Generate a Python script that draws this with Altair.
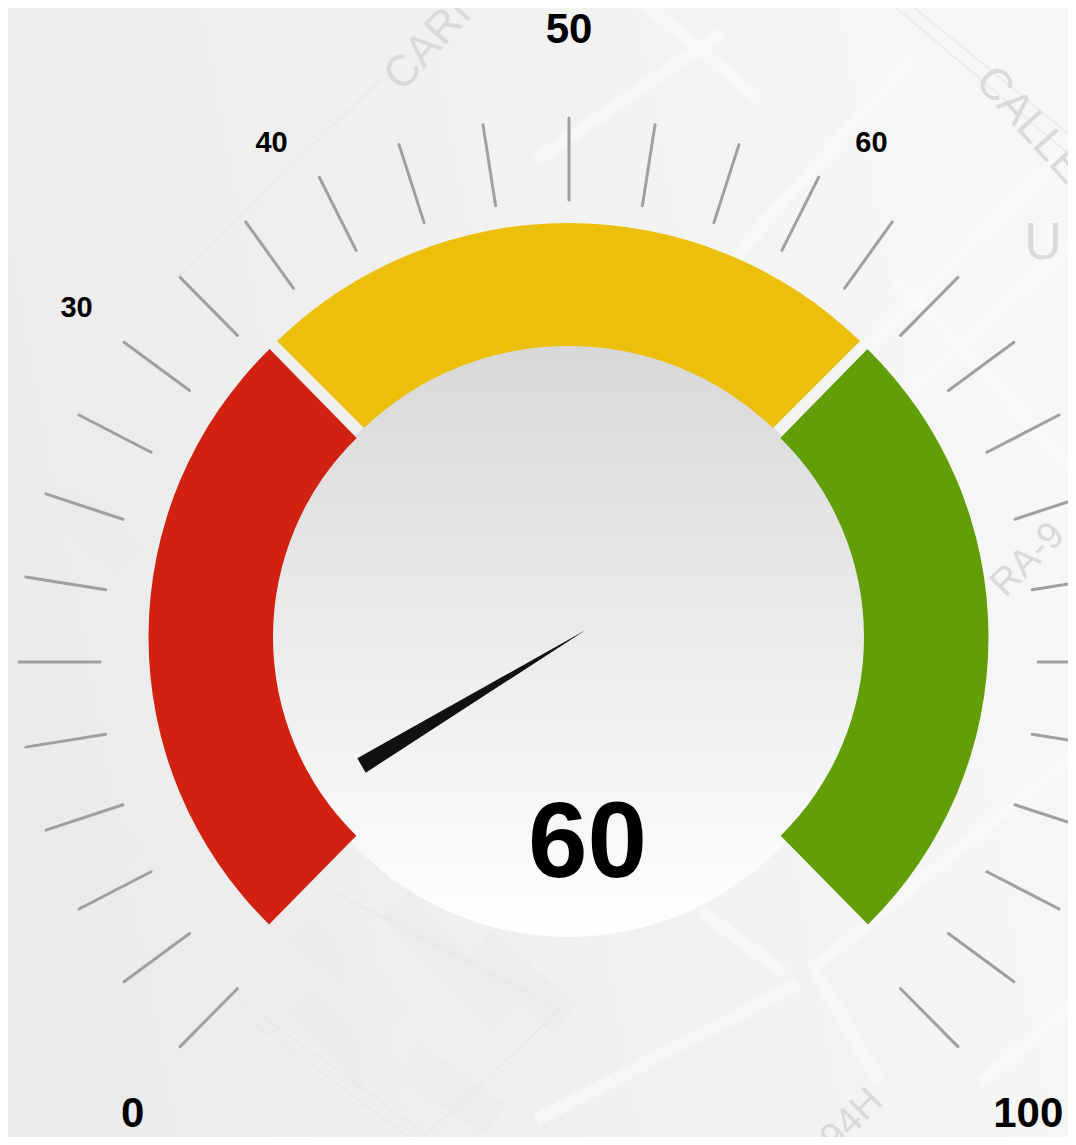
import altair as alt
import pandas as pd
import math

# gauge content
tick_values = [round(i * 100 / 30, 3) for i in range(31)]
band_names = ["low", "mid", "high"]
band_start = [-0.185, 100 / 3, 66.44]
band_end = [33.56, 200 / 3, 100.185]
band_colors = ["#d12211", "#ecbf0b", "#619e08"]
scale_labels = ["0", "30", "40", "50", "60", "100"]
scale_values = [0, 30, 40, 50, 60, 100]
reading = "60"

# needle outline
needle_x = [357.3, 365.7, 585.7]
needle_top = [758.3, 753.6, 630.0]
needle_bottom = [758.3, 772.7, 630.0]

# faint street map behind the gauge
wide_x1 = [536, 736, 860, 911, 894, 811, 701, 815, 980, 536, 640]
wide_y1 = [160, 255, 353, 389, 276, 970, 911, 970, 1083, 1120, 0]
wide_x2 = [722, 915, 1076, 1076, 1076, 1076, 784, 880, 1076, 798, 760]
wide_y2 = [33, 55, 142, 240, 473, 753, 973, 1083, 1003, 984, 100]
line_x1 = [887, 905, 179, 250, 240, 330, 420]
line_y1 = [0, 0, 276, 1020, 1000, 890, 1140]
line_x2 = [1076, 1076, 380, 420, 420, 560, 560]
line_y2 = [160, 140, 80, 1145, 1130, 1010, 1010]
block_x1 = [300, 395, 300, 410, 480, 60, 20]
block_y1 = [925, 905, 1000, 1060, 945, 500, 760]
block_x2 = [395, 505, 375, 495, 565, 130, 130]
block_y2 = [1020, 1020, 1075, 1120, 1020, 560, 860]
map_words = ["CARI", "CALLE", "U", "RA-9", "94H"]
map_x = [428, 1030, 1043, 1028, 852]
map_y = [45, 125, 243, 560, 1120]
map_angle = [312, 48, 0, 315, 315]
map_size = [44, 44, 52, 38, 38]

X = alt.Scale(domain=[8, 1068])
Y = alt.Scale(domain=[1137, 8])


def xq(f):
    return alt.X(f, type="quantitative", scale=X, axis=None)


def yq(f):
    return alt.Y(f, type="quantitative", scale=Y, axis=None)


paper = alt.Chart(pd.DataFrame({"a": [0]})).mark_rect(
    color=alt.Gradient(
        gradient="linear",
        x1=0, y1=0.6, x2=1, y2=0.4,
        stops=[
            alt.GradientStop(color="#ebebeb", offset=0),
            alt.GradientStop(color="#f0f0f0", offset=0.45),
            alt.GradientStop(color="#f7f7f6", offset=1),
        ],
    )
).encode(x=alt.value(0), x2=alt.value(1060), y=alt.value(0), y2=alt.value(1129))


def segs(x1, y1, x2, y2, color, w, op=1.0):
    df = pd.DataFrame({"x1": x1, "y1": y1, "x2": x2, "y2": y2})
    return alt.Chart(df).mark_rule(color=color, strokeWidth=w, opacity=op).encode(
        x=xq("x1"), y=yq("y1"), x2="x2", y2="y2"
    )


blocks = segs(block_x1, block_y1, block_x2, block_y2, "#e8e8e8", 38, 0.35)
wide = segs(wide_x1, wide_y1, wide_x2, wide_y2, "#fafafa", 13, 0.6)
thin = segs(line_x1, line_y1, line_x2, line_y2, "#e6e6e6", 2, 0.6)

map_layers = []
for w, mx, my, ma, ms in zip(map_words, map_x, map_y, map_angle, map_size):
    map_layers.append(
        alt.Chart(pd.DataFrame({"t": [w], "x": [mx], "y": [my]}))
        .mark_text(font="Liberation Sans", fontSize=ms, color="#dadada", angle=ma,
                   align="center", baseline="middle")
        .encode(x=xq("x"), y=yq("y"), text="t:N")
    )

ANG = "((datum.v / 100) * 270 - 135) * PI / 180"
ticks = (
    alt.Chart(pd.DataFrame({"v": tick_values}))
    .transform_calculate(a=ANG)
    .transform_calculate(
        xo="569 + 550 * sin(datum.a)", yo="662 - 544 * cos(datum.a)",
        xi="569 + 469 * sin(datum.a)", yi="662 - 462 * cos(datum.a)",
    )
    .mark_rule(color="#a0a0a0", strokeWidth=3, strokeCap="round")
    .encode(x=xq("xo"), y=yq("yo"), x2="xi:Q", y2="yi:Q")
)

theta_scale = alt.Scale(domain=[0, 100], range=[-3 * math.pi / 4, 3 * math.pi / 4], zero=False)


def band(i, cx, cy, outer, inner, pad):
    df = pd.DataFrame({"s": [band_start[i]], "e": [band_end[i]], "x": [cx], "y": [cy]})
    return alt.Chart(df).mark_arc(
        color=band_colors[i], outerRadius=outer, innerRadius=inner, padAngle=pad
    ).encode(
        x=xq("x"), y=yq("y"),
        theta=alt.Theta("s:Q", scale=theta_scale),
        theta2="e:Q",
    )


red = band(0, 551.5, 637, 403, 278.5, 0)
yellow = band(1, 568.5, 642, 419, 296, 0.026)
green = band(2, 585.5, 637, 403, 278.5, 0)

disc = alt.Chart(pd.DataFrame({"x": [568.5], "y": [641.0]})).mark_arc(
    outerRadius=296,
    theta=0,
    theta2=2 * math.pi,
    color=alt.Gradient(
        gradient="linear",
        x1=0, y1=0, x2=0, y2=1,
        stops=[
            alt.GradientStop(color="#d8d8d8", offset=0),
            alt.GradientStop(color="#ffffff", offset=1),
        ],
    ),
).encode(x=xq("x"), y=yq("y"))

needle = (
    alt.Chart(pd.DataFrame({"x": needle_x, "t": needle_top, "b": needle_bottom}))
    .mark_area(color="#111111")
    .encode(x=xq("x"), y=yq("t"), y2="b:Q")
)

label_style = {
    "0": (42, -12, 28), "30": (29, -7, -1), "40": (29, -25, 16),
    "50": (42, 0, -32), "60": (29, 30, 16), "100": (42, 35, 28),
}
label_layers = []
for txt, val in zip(scale_labels, scale_values):
    fs, dx, dy = label_style[txt]
    label_layers.append(
        alt.Chart(pd.DataFrame({"t": [txt], "v": [val]}))
        .transform_calculate(a=ANG)
        .transform_calculate(xl="569 + 600 * sin(datum.a)", yl="662 - 600 * cos(datum.a)")
        .mark_text(font="Liberation Sans", fontWeight="bold", fontSize=fs, color="#000000",
                   align="center", baseline="middle", dx=dx, dy=dy)
        .encode(x=xq("xl"), y=yq("yl"), text="t:N")
    )

value_text = (
    alt.Chart(pd.DataFrame({"t": [reading], "x": [587.5], "y": [845]}))
    .mark_text(font="Liberation Sans", fontWeight="bold", fontSize=107, color="#000000",
               align="center", baseline="middle")
    .encode(x=xq("x"), y=yq("y"), text="t:N")
)

chart = (
    alt.layer(
        paper, blocks, wide, thin, *map_layers, ticks, disc, red, yellow, green,
        needle, *label_layers, value_text,
    )
    .properties(width=1060, height=1129, padding=0, autosize=alt.AutoSizeParams(type="none"))
    .configure_view(stroke=None)
)

chart.save("out.html", embed_options={"renderer": "svg", "actions": False})
